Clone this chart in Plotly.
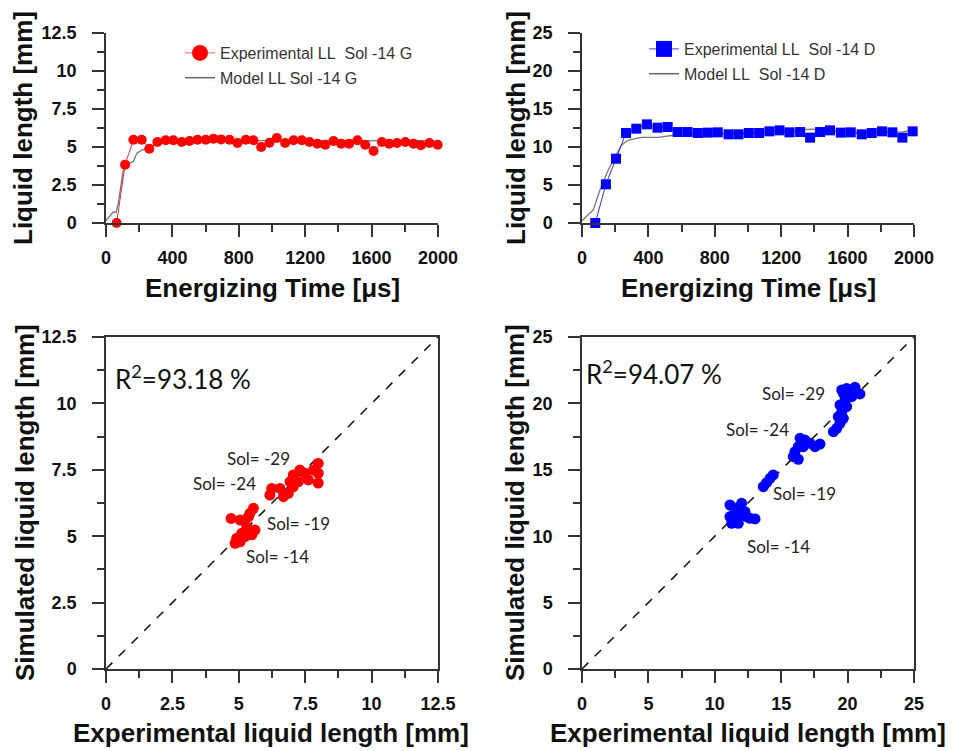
import plotly.graph_objects as go

# ---------------- data ----------------
# Top-left: Sol -14 G
time_exp_G = [64, 115, 165, 215, 261, 310, 360, 406, 456, 503, 551, 601, 647, 693, 744, 792, 842, 888,
              935, 985, 1029, 1079, 1130, 1180, 1226, 1274, 1321, 1371, 1417, 1465, 1515, 1562, 1612,
              1662, 1706, 1753, 1803, 1853, 1897, 1948, 1998]
ll_exp_G = [0.0, 3.84, 5.48, 5.48, 4.89, 5.33, 5.44, 5.44, 5.33, 5.39, 5.48, 5.48, 5.55, 5.50, 5.48, 5.26,
            5.48, 5.44, 5.00, 5.28, 5.59, 5.26, 5.44, 5.44, 5.33, 5.22, 5.15, 5.39, 5.22, 5.22, 5.44,
            5.15, 4.74, 5.33, 5.22, 5.26, 5.33, 5.22, 5.11, 5.26, 5.15]
time_mod_G = [0, 44, 60, 74, 104, 134, 165, 185, 215, 245, 285, 325, 466, 667, 900, 1100, 1300, 1500,
              1700, 1900, 2000]
ll_mod_G = [0.15, 0.74, 0.68, 1.29, 3.49, 3.93, 4.03, 4.58, 4.80, 4.91, 5.13, 5.24, 5.24, 5.46, 5.42,
            5.40, 5.42, 5.40, 5.42, 5.42, 5.35]

# Top-right: Sol -14 D
time_exp_D = [80, 144, 205, 265, 327, 391, 455, 516, 576, 636, 698, 758, 818, 883, 943, 1005, 1067,
              1129, 1190, 1250, 1314, 1374, 1434, 1494, 1559, 1619, 1685, 1745, 1807, 1870, 1930, 1992]
ll_exp_D = [0.0, 5.09, 8.46, 11.84, 12.41, 12.98, 12.54, 12.63, 11.97, 11.97, 11.84, 11.89, 11.93,
            11.67, 11.67, 11.84, 11.84, 12.06, 12.19, 11.93, 11.97, 11.23, 11.97, 12.19, 11.89, 11.93,
            11.67, 11.84, 12.06, 11.93, 11.23, 12.06]
time_mod_D = [0, 48, 68, 108, 158, 199, 239, 279, 360, 460, 560, 759, 950, 1150, 1380, 1600, 1800,
              1930, 2000]
ll_mod_D = [0.30, 1.36, 1.71, 4.34, 6.97, 8.72, 10.26, 10.92, 11.27, 11.27, 11.58, 11.70, 11.80,
            11.95, 12.35, 12.00, 11.95, 12.00, 12.30]

# Bottom-left: experimental vs simulated (G)
exp_G = [4.71, 5.05, 5.36, 5.55, 5.42, 5.30, 5.61, 5.11, 5.49, 4.92, 4.86, 5.05, 5.23,
         6.17, 6.24, 6.55, 6.68, 6.86, 7.05, 7.05, 7.30, 7.49, 7.62, 7.81, 7.99, 7.99, 7.99, 6.93, 7.24]
sim_G = [5.67, 5.61, 5.73, 6.05, 5.86, 5.36, 5.23, 5.11, 5.05, 4.92, 4.73, 4.79, 4.98,
         6.55, 6.80, 6.80, 6.49, 6.61, 6.86, 7.30, 7.49, 7.37, 7.12, 7.49, 7.74, 7.00, 7.37, 7.05, 7.05]

# Bottom-right: experimental vs simulated (D)
exp_D = [11.14, 11.65, 12.02, 11.39, 11.90, 12.27, 12.40, 13.03, 11.27, 11.77, 11.52, 12.65, 11.14,
         13.65, 13.90, 14.16, 14.40,
         15.91, 16.29, 16.04, 16.29, 16.42, 16.79, 16.66, 17.17, 17.55, 17.92,
         18.93, 19.18, 19.43, 19.30, 19.68, 19.56, 19.43, 19.93, 19.81, 19.68, 19.93, 20.31, 20.56,
         20.31, 20.93, 19.56]
sim_D = [12.35, 12.10, 12.48, 11.60, 11.60, 11.85, 11.47, 11.30, 10.97, 10.97, 11.22, 11.35, 11.47,
         13.73, 14.03, 14.36, 14.61,
         15.99, 15.79, 16.36, 16.74, 17.37, 17.24, 16.74, 16.99, 16.74, 16.94,
         17.87, 18.12, 18.50, 19.00, 18.88, 19.38, 19.88, 19.75, 20.26, 20.76, 21.13, 21.01, 21.21,
         20.51, 20.71, 21.01]

range_G = [0, 12.5]
range_D = [0, 25]
r2_G = "R<sup>2</sup>=93.18 %"
r2_D = "R<sup>2</sup>=94.07 %"
sol_labels = ["Sol= -29", "Sol= -24", "Sol= -19", "Sol= -14"]
sol_pos_G = [(5.76, 7.91), (4.48, 6.97), (7.23, 5.46), (6.44, 4.22)]
sol_pos_D = [(15.96, 20.78), (13.25, 18.07), (16.79, 13.18), (14.76, 9.19)]
NB = "\u00a0"
names = {
    "eG": "Experimental LL" + NB + NB + "Sol -14 G",
    "mG": "Model LL Sol -14 G",
    "eD": "Experimental LL" + NB + NB + "Sol -14 D",
    "mD": "Model LL" + NB + NB + "Sol -14 D",
}

# ---------------- figure ----------------
W, H = 955, 751
RED = "#ff0000"
BLUE = "#0000ff"
AX = "#333333"
TICKFONT = dict(family="Liberation Sans, Arial", size=18, color="#111111", weight="bold")

fig = go.Figure()

# top-left
fig.add_trace(go.Scatter(x=time_mod_G, y=ll_mod_G, mode="lines", showlegend=False,
                         line=dict(color="#777777", width=1.3), xaxis="x", yaxis="y"))
fig.add_trace(go.Scatter(x=time_exp_G, y=ll_exp_G, mode="lines+markers", showlegend=False,
                         line=dict(color="#e03030", width=1),
                         marker=dict(color=RED, size=10, symbol="circle"),
                         cliponaxis=False, xaxis="x", yaxis="y"))
# legend entries (top-left)
fig.add_trace(go.Scatter(x=[None], y=[None], mode="lines+markers", name=names["eG"],
                         line=dict(color="#e06060", width=1), marker=dict(color=RED, size=20),
                         xaxis="x", yaxis="y", legend="legend", legendgroup="eG", legendrank=1))
fig.add_trace(go.Scatter(x=[None], y=[None], mode="lines", name=names["mG"],
                         line=dict(color="#666666", width=1.5),
                         xaxis="x", yaxis="y", legend="legend", legendgroup="mG", legendrank=2))
# top-right
fig.add_trace(go.Scatter(x=time_mod_D, y=ll_mod_D, mode="lines", showlegend=False,
                         line=dict(color="#777777", width=1.3), xaxis="x2", yaxis="y2"))
fig.add_trace(go.Scatter(x=time_exp_D, y=ll_exp_D, mode="lines+markers", showlegend=False,
                         line=dict(color="#3030e0", width=1),
                         marker=dict(color=BLUE, size=10, symbol="square"),
                         cliponaxis=False, xaxis="x2", yaxis="y2"))
fig.add_trace(go.Scatter(x=[None], y=[None], mode="lines+markers", name=names["eD"],
                         line=dict(color="#4040e0", width=1),
                         marker=dict(color=BLUE, size=20, symbol="square"),
                         xaxis="x2", yaxis="y2", legend="legend2", legendgroup="eD", legendrank=1))
fig.add_trace(go.Scatter(x=[None], y=[None], mode="lines", name=names["mD"],
                         line=dict(color="#666666", width=1.5),
                         xaxis="x2", yaxis="y2", legend="legend2", legendgroup="mD", legendrank=2))
# bottom-left
fig.add_trace(go.Scatter(x=range_G, y=range_G, mode="lines", showlegend=False,
                         line=dict(color="#111111", width=1.5, dash="dash"), xaxis="x3", yaxis="y3"))
fig.add_trace(go.Scatter(x=exp_G, y=sim_G, mode="markers", showlegend=False,
                         marker=dict(color=RED, size=11), xaxis="x3", yaxis="y3"))
# bottom-right
fig.add_trace(go.Scatter(x=range_D, y=range_D, mode="lines", showlegend=False,
                         line=dict(color="#111111", width=1.5, dash="dash"), xaxis="x4", yaxis="y4"))
fig.add_trace(go.Scatter(x=exp_D, y=sim_D, mode="markers", showlegend=False,
                         marker=dict(color=BLUE, size=11), xaxis="x4", yaxis="y4"))


def px_x(p):
    return p / W


def px_y(p):
    return 1 - p / H


def axis(domain, rng, dtick, minor_dtick, anchor, mirror=False, standoff=8):
    return dict(domain=domain, range=rng, anchor=anchor, dtick=dtick, tick0=0,
                showline=True, linecolor=AX, linewidth=1.5, mirror=mirror,
                ticks="outside", ticklen=12, tickwidth=1.5, tickcolor=AX,
                minor=dict(ticks="outside", ticklen=7, tickwidth=1.5, tickcolor=AX, dtick=minor_dtick,
                           tick0=0, showgrid=False),
                showgrid=False, zeroline=False, tickfont=TICKFONT, ticklabelstandoff=standoff,
                tickprefix="<b>", ticksuffix="</b>",
                automargin=False, fixedrange=True)


xl = [px_x(106), px_x(438)]
xr = [px_x(582), px_x(914)]
yt = [px_y(223), px_y(33)]
yb = [px_y(669), px_y(337)]

LEGF = dict(family="Liberation Sans, Arial", size=16, color="#333333")
fig.update_layout(
    width=W, height=H, margin=dict(l=0, r=0, t=0, b=0, autoexpand=False),
    paper_bgcolor="white", plot_bgcolor="white",
    xaxis=axis(xl, [0, 2000], 400, 200, "y", standoff=6),
    yaxis=axis(yt, [0, 12.5], 2.5, 1.25, "x", standoff=12),
    xaxis2=axis(xr, [0, 2000], 400, 200, "y2", standoff=6),
    yaxis2=axis(yt, [0, 25], 5, 2.5, "x2", standoff=12),
    xaxis3=axis(xl, range_G, 2.5, 1.25, "y3", mirror=True, standoff=6),
    yaxis3=axis(yb, range_G, 2.5, 1.25, "x3", mirror=True, standoff=12),
    xaxis4=axis(xr, range_D, 5, 2.5, "y4", mirror=True, standoff=6),
    yaxis4=axis(yb, range_D, 5, 2.5, "x4", mirror=True, standoff=12),
    legend=dict(x=px_x(180), y=px_y(36), xanchor="left", yanchor="top", bgcolor="rgba(0,0,0,0)",
                font=LEGF, tracegroupgap=1, itemwidth=30),
    legend2=dict(x=px_x(644), y=px_y(32), xanchor="left", yanchor="top", bgcolor="rgba(0,0,0,0)",
                 font=LEGF, tracegroupgap=1, itemwidth=30),
)

TITLE = dict(family="Liberation Sans, Arial", size=26, color="#111111")
ann = []
for txt, x, y, ang in [
    ("Liquid length [mm]", 23, 128, -90),
    ("Liquid length [mm]", 516, 128, -90),
    ("Simulated liquid length [mm]", 25, 503, -90),
    ("Simulated liquid length [mm]", 515, 503, -90),
    ("Energizing Time [\u03bcs]", 272, 288, 0),
    ("Energizing Time [\u03bcs]", 748, 288, 0),
    ("Experimental liquid length [mm]", 271, 733, 0),
    ("Experimental liquid length [mm]", 748, 733, 0),
]:
    ann.append(dict(text="<b>" + txt + "</b>", x=px_x(x), y=px_y(y), xref="paper", yref="paper",
                    xanchor="center", yanchor="middle", textangle=ang, showarrow=False, font=TITLE))

LABF = dict(family="Lato, Noto Sans", size=17, color="#222222")
for lab, (x, y) in zip(sol_labels, sol_pos_G):
    ann.append(dict(text=lab, x=x, y=y, xref="x3", yref="y3", showarrow=False, font=LABF,
                    xanchor="center", yanchor="middle"))
for lab, (x, y) in zip(sol_labels, sol_pos_D):
    ann.append(dict(text=lab, x=x, y=y, xref="x4", yref="y4", showarrow=False, font=LABF,
                    xanchor="center", yanchor="middle"))
R2F = dict(family="Lato, Noto Sans", size=26, color="#111111")
ann.append(dict(text=r2_G, x=0.26, y=10.99, xref="x3", yref="y3", showarrow=False, font=R2F,
                xanchor="left", yanchor="middle"))
ann.append(dict(text=r2_D, x=0.15, y=22.36, xref="x4", yref="y4", showarrow=False, font=R2F,
                xanchor="left", yanchor="middle"))
fig.update_layout(annotations=ann)

fig.write_html("out.html")
